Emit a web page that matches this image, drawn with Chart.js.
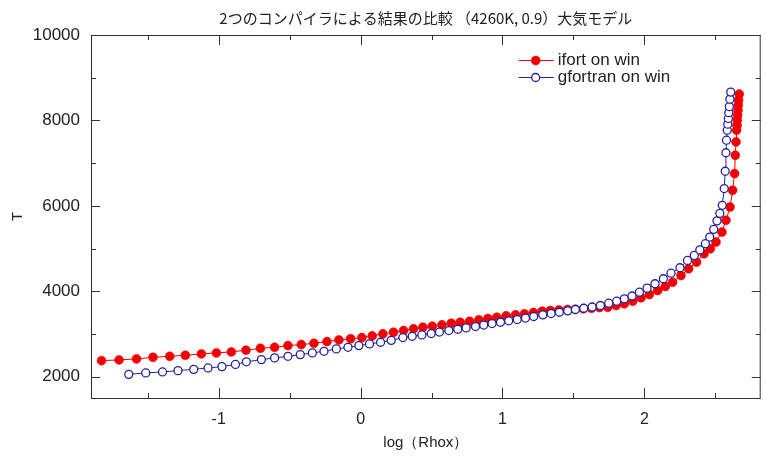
<!DOCTYPE html>
<html>
<head>
<meta charset="utf-8">
<script src="https://cdn.jsdelivr.net/npm/chart.js@4"></script>
<style>
  html, body { margin: 0; padding: 0; background: #fff; }
  #wrap { width: 766px; height: 459px; }
</style>
</head>
<body>
<div id="wrap"><canvas id="chart" width="766" height="459"></canvas></div>
<script>
/* ===============================
   DATA
================================ */
const ifortLogRho = [
  -1.826, -1.702, -1.579, -1.463, -1.345, -1.235, -1.122, -1.016, -0.911, -0.808,
  -0.706, -0.606, -0.512, -0.418, -0.329, -0.237, -0.153, -0.070, 0.009, 0.082,
  0.157, 0.232, 0.303, 0.373, 0.439, 0.505, 0.573, 0.639, 0.702, 0.768,
  0.833, 0.897, 0.960, 1.026, 1.092, 1.155, 1.218, 1.280, 1.338, 1.398,
  1.458, 1.514, 1.570, 1.627, 1.683, 1.742, 1.801, 1.859, 1.918, 1.977,
  2.035, 2.094, 2.148, 2.199, 2.258, 2.312, 2.368, 2.420, 2.465, 2.505,
  2.547, 2.575, 2.604, 2.622, 2.636, 2.641, 2.646, 2.650, 2.653, 2.655,
  2.657, 2.660, 2.662, 2.664, 2.669
];
const ifortT = [
  2375, 2392, 2415, 2453, 2476, 2500, 2533, 2556, 2579, 2620,
  2664, 2687, 2727, 2751, 2781, 2821, 2860, 2888, 2915, 2955,
  3002, 3039, 3079, 3119, 3157, 3180, 3213, 3250, 3274, 3297,
  3330, 3361, 3391, 3424, 3447, 3471, 3501, 3532, 3548, 3560,
  3572, 3579, 3588, 3602, 3619, 3626, 3666, 3706, 3767, 3846,
  3924, 4018, 4111, 4212, 4369, 4527, 4681, 4879, 4996, 5151,
  5385, 5660, 5972, 6364, 6755, 7185, 7497, 7771, 7888, 8006,
  8123, 8240, 8358, 8475, 8616
];
const gfortranLogRho = [
  -1.634, -1.514, -1.396, -1.287, -1.176, -1.075, -0.977, -0.882, -0.805, -0.699,
  -0.606, -0.512, -0.425, -0.340, -0.258, -0.171, -0.089, -0.012, 0.063, 0.141,
  0.216, 0.298, 0.364, 0.432, 0.498, 0.556, 0.622, 0.685, 0.744, 0.810,
  0.868, 0.927, 0.986, 1.044, 1.104, 1.162, 1.220, 1.284, 1.343, 1.401,
  1.460, 1.514, 1.573, 1.632, 1.690, 1.749, 1.805, 1.859, 1.913, 1.965,
  2.019, 2.075, 2.134, 2.188, 2.251, 2.304, 2.352, 2.391, 2.430, 2.461,
  2.489, 2.512, 2.532, 2.549, 2.563, 2.570, 2.575, 2.579, 2.584, 2.588,
  2.592, 2.595, 2.599, 2.603, 2.609
];
const gfortranT = [
  2054, 2087, 2110, 2141, 2171, 2204, 2235, 2286, 2347, 2399,
  2439, 2476, 2516, 2556, 2594, 2650, 2687, 2727, 2767, 2805,
  2850, 2915, 2945, 2978, 3009, 3044, 3079, 3110, 3142, 3173,
  3208, 3243, 3274, 3307, 3337, 3372, 3408, 3447, 3478, 3508,
  3541, 3572, 3602, 3631, 3666, 3720, 3767, 3823, 3889, 3978,
  4072, 4175, 4292, 4423, 4550, 4721, 4839, 4968, 5113, 5268,
  5449, 5648, 5824, 6012, 6404, 6809, 7243, 7537, 7771, 7912,
  8046, 8182, 8322, 8498, 8663
];

const xTickValues = [-1.5, -1, -0.5, 0, 0.5, 1, 1.5, 2, 2.5];
const yTickValues = [2000, 3000, 4000, 5000, 6000, 7000, 8000, 9000, 10000];

const seriesLabels = ["ifort on win", "gfortran on win"];

/* ===============================
   STYLE
================================ */
const RED = "#f20000";
const BLUE = "#22229e";
const AXIS = "#333";
const TEXT = "#222";
const SANS = "'Liberation Sans', Arial, sans-serif";

Chart.defaults.font.family = SANS;
Chart.defaults.color = TEXT;

const toPoints = (xs, ys) => xs.map((x, i) => ({ x: x, y: ys[i] }));

/* frame + inward tick marks on all four sides */
const frameTicks = {
  id: "frameTicks",
  beforeDatasetsDraw(chart) {
    const { ctx, chartArea: a, scales } = chart;
    ctx.save();
    ctx.strokeStyle = AXIS;
    ctx.lineWidth = 1;
    ctx.strokeRect(a.left + 0.5, a.top + 0.5, a.right - a.left - 1, a.bottom - a.top);

    ctx.beginPath();
    xTickValues.forEach((v) => {
      const px = Math.round(scales.x.getPixelForValue(v)) + 0.5;
      const len = Number.isInteger(v) ? 10 : 5;
      ctx.moveTo(px, a.bottom);
      ctx.lineTo(px, a.bottom - len);
      ctx.moveTo(px, a.top);
      ctx.lineTo(px, a.top + len);
    });
    yTickValues.forEach((v) => {
      const py = Math.round(scales.y.getPixelForValue(v)) + 0.5;
      const len = v % 2000 === 0 ? 9 : 5;
      ctx.moveTo(a.left, py);
      ctx.lineTo(a.left + len, py);
      ctx.moveTo(a.right, py);
      ctx.lineTo(a.right - len, py);
    });
    ctx.stroke();
    ctx.restore();
  },
};

/* legend inside the plot, top right */
const insideLegend = {
  id: "insideLegend",
  afterDatasetsDraw(chart) {
    const { ctx, chartArea: a } = chart;
    const x0 = a.right - 242;
    ctx.save();
    ctx.font = "17px " + SANS;
    ctx.textBaseline = "middle";
    chart.data.datasets.forEach((ds, i) => {
      const y = a.top + 25 + i * 17;
      ctx.strokeStyle = ds.borderColor;
      ctx.lineWidth = 1;
      ctx.beginPath();
      ctx.moveTo(x0, y + 0.5);
      ctx.lineTo(x0 + 35, y + 0.5);
      ctx.stroke();
      ctx.beginPath();
      ctx.arc(x0 + 17, y + 0.5, ds.pointRadius, 0, Math.PI * 2);
      ctx.fillStyle = ds.pointBackgroundColor;
      ctx.fill();
      ctx.lineWidth = ds.pointBorderWidth;
      ctx.strokeStyle = ds.pointBorderColor;
      ctx.stroke();
      ctx.fillStyle = TEXT;
      ctx.fillText(ds.label, x0 + 39, y);
    });
    ctx.restore();
  },
};

/* ===============================
   CHART
================================ */
new Chart(document.getElementById("chart"), {
  type: "line",
  data: {
    datasets: [
      {
        label: seriesLabels[0],
        data: toPoints(ifortLogRho, ifortT),
        borderColor: RED,
        borderWidth: 1,
        pointRadius: 4.5,
        pointBackgroundColor: RED,
        pointBorderColor: RED,
        pointBorderWidth: 0.5,
        order: 1,
      },
      {
        label: seriesLabels[1],
        data: toPoints(gfortranLogRho, gfortranT),
        borderColor: BLUE,
        borderWidth: 1,
        pointRadius: 4,
        pointBackgroundColor: "#fff",
        pointBorderColor: BLUE,
        pointBorderWidth: 1.3,
        order: 0,
      },
    ],
  },
  options: {
    responsive: false,
    animation: false,
    devicePixelRatio: 1,
    layout: { padding: { top: 0, right: 4, bottom: 0, left: 0 } },
    plugins: {
      legend: { display: false },
      tooltip: { enabled: false },
      title: {
        display: true,
        fullSize: false,
        text: "2つのコンパイラによる結果の比較 （4260K, 0.9）大気モデル",
        font: { family: "'Noto Sans CJK JP', sans-serif", size: 15, weight: "normal" },
        color: TEXT,
        padding: { top: 9, bottom: 8 },
      },
    },
    scales: {
      x: {
        type: "linear",
        min: -1.9,
        max: 2.82,
        afterBuildTicks: (s) => { s.ticks = xTickValues.map((v) => ({ value: v })); },
        afterFit: (s) => { s.height = 61; },
        grid: { display: false, drawTicks: false },
        border: { display: false },
        ticks: {
          padding: 12,
          maxRotation: 0,
          font: { size: 16 },
          color: TEXT,
          callback: (v) => (Number.isInteger(v) ? String(v) : ""),
        },
        title: {
          display: true,
          text: "log（Rhox）",
          font: { size: 15 },
          color: TEXT,
          padding: { top: 0, bottom: 7 },
        },
      },
      y: {
        type: "linear",
        min: 1500,
        max: 10000,
        afterBuildTicks: (s) => { s.ticks = yTickValues.map((v) => ({ value: v })); },
        afterFit: (s) => { s.width = 91; },
        grid: { display: false, drawTicks: false },
        border: { display: false },
        ticks: {
          padding: 11,
          font: { size: 17 },
          color: TEXT,
          callback: (v) => (v % 2000 === 0 ? String(v) : ""),
        },
        title: {
          display: true,
          text: "T",
          font: { size: 15 },
          color: TEXT,
          padding: { top: 9, bottom: 0 },
        },
      },
    },
  },
  plugins: [frameTicks, insideLegend],
});
</script>
</body>
</html>
